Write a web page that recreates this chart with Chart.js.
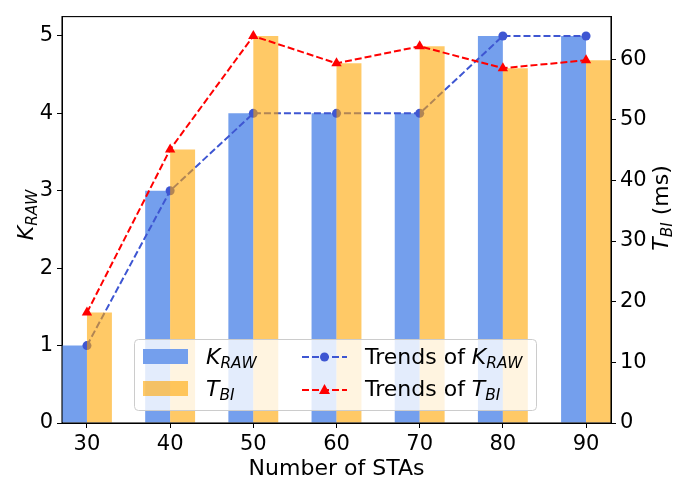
<!DOCTYPE html>
<html>
<head>
<meta charset="utf-8">
<script src="https://cdn.jsdelivr.net/npm/chart.js@4.4.1/dist/chart.umd.min.js"></script>
<style>
  html, body { margin: 0; padding: 0; background: #fff; }
  #grafico { display: block; }
</style>
</head>
<body>
<canvas id="grafico" width="673" height="478"></canvas>
<script>
// datos
var stas = [30, 40, 50, 60, 70, 80, 90];
var kRaw = [1, 3, 4, 4, 4, 5, 5];
var tBi = [18.2, 45.1, 63.8, 59.3, 62.1, 58.5, 59.8];
var yTicksK = [0, 1, 2, 3, 4, 5];
var yTicksT = [0, 10, 20, 30, 40, 50, 60];

var FUENTE = '"DejaVu Sans", sans-serif';
var TAM_TICK = 21;
var TAM = 22;
var azulBarra = 'rgb(116,159,237)';
var naranjaBarra = 'rgba(255,165,0,0.6)';
var azulLinea = 'rgb(62,86,210)';
var rojoLinea = 'rgb(255,0,0)';

// puntos {x, y} para el eje lineal
function puntos(vals) {
    return stas.map(function(s, i) { return {x: s, y: vals[i]}; });
}

// texto con subíndice (K_RAW, T_BI)
function textoMath(ctx, x, y, partes, align) {
    var total = 0;
    partes.forEach(function(p) {
        var t = p.sub ? TAM * 0.7 : TAM;
        ctx.font = (p.italic ? 'italic ' : '') + t + 'px ' + FUENTE;
        p.w = ctx.measureText(p.t).width;
        total += p.w;
    });
    var cx = x;
    if (align === 'center') cx = x - total / 2;
    partes.forEach(function(p) {
        var t = p.sub ? TAM * 0.7 : TAM;
        ctx.font = (p.italic ? 'italic ' : '') + t + 'px ' + FUENTE;
        ctx.fillText(p.t, cx, y + (p.sub ? 4 : 0));
        cx += p.w;
    });
}

var K_RAW = [{t: 'K', italic: true}, {t: 'RAW', italic: true, sub: true}];
var T_BI = [{t: 'T', italic: true}, {t: 'BI', italic: true, sub: true}];

// orden de dibujo como en matplotlib: barras azules, línea azul, barras naranjas, línea roja
var ordenDibujo = [0, 2, 1, 3];

var capas = {
    id: 'capas',
    beforeDatasetDraw: function() { return false; },
    afterDatasetsDraw: function(chart) {
        var ctx = chart.ctx;
        var a = chart.chartArea;
        ctx.save();
        ctx.beginPath();
        ctx.rect(a.left, a.top, a.right - a.left, a.bottom - a.top);
        ctx.clip();
        ordenDibujo.forEach(function(i) { chart.getDatasetMeta(i).controller.draw(); });
        ctx.restore();
    }
};

var extras = {
    id: 'extras',
    afterDraw: function(chart) {
        var ctx = chart.ctx;
        var a = chart.chartArea;
        ctx.save();
        // marco
        ctx.strokeStyle = '#000';
        ctx.lineWidth = 1.1;
        ctx.strokeRect(a.left, a.top, a.right - a.left, a.bottom - a.top);

        ctx.fillStyle = '#000';
        ctx.textBaseline = 'alphabetic';
        // título eje x
        ctx.font = TAM + 'px ' + FUENTE;
        ctx.textAlign = 'center';
        ctx.fillText('Number of STAs', (a.left + a.right) / 2, 475);
        ctx.textAlign = 'left';

        // título eje izquierdo
        ctx.save();
        ctx.translate(33, 215);
        ctx.rotate(-Math.PI / 2);
        textoMath(ctx, 0, 0, K_RAW, 'center');
        ctx.restore();

        // título eje derecho
        ctx.save();
        ctx.translate(668, 208);
        ctx.rotate(-Math.PI / 2);
        textoMath(ctx, 0, 0, T_BI.concat([{t: ' (ms)'}]), 'center');
        ctx.restore();

        // leyenda
        ctx.beginPath();
        ctx.roundRect(134.5, 339.5, 402, 71, 4);
        ctx.fillStyle = 'rgba(255,255,255,0.8)';
        ctx.fill();
        ctx.strokeStyle = 'rgb(204,204,204)';
        ctx.lineWidth = 1;
        ctx.stroke();

        ctx.fillStyle = azulBarra;
        ctx.fillRect(143, 349, 45, 15);
        ctx.fillStyle = naranjaBarra;
        ctx.fillRect(143, 381, 45, 15);

        function manija(y, color, triangulo) {
            ctx.strokeStyle = color;
            ctx.lineWidth = 2;
            ctx.setLineDash([7, 3]);
            ctx.beginPath();
            ctx.moveTo(302, y);
            ctx.lineTo(347, y);
            ctx.stroke();
            ctx.setLineDash([]);
            ctx.fillStyle = color;
            ctx.beginPath();
            if (triangulo) {
                ctx.moveTo(324.5, y - 6);
                ctx.lineTo(330, y + 4);
                ctx.lineTo(319, y + 4);
                ctx.closePath();
            } else {
                ctx.arc(324.5, y, 4.5, 0, Math.PI * 2);
            }
            ctx.fill();
        }
        manija(357, azulLinea, false);
        manija(390, rojoLinea, true);

        ctx.fillStyle = '#000';
        textoMath(ctx, 206, 363.5, K_RAW);
        textoMath(ctx, 206, 396, T_BI);
        textoMath(ctx, 365, 363.5, [{t: 'Trends of '}].concat(K_RAW));
        textoMath(ctx, 365, 396, [{t: 'Trends of '}].concat(T_BI));
        ctx.restore();
    }
};

function ejeComun() {
    return {
        grid: { display: true, drawOnChartArea: false, drawTicks: true, tickLength: 5, color: '#000', offset: false },
        border: { display: true, color: '#000', width: 1 },
        ticks: { color: '#000', font: { family: FUENTE, size: TAM_TICK }, padding: 4 }
    };
}

new Chart(document.getElementById('grafico'), {
    data: {
        datasets: [
            {
                type: 'bar', label: 'K_RAW', data: puntos(kRaw), yAxisID: 'y',
                backgroundColor: azulBarra, categoryPercentage: 0.6, barPercentage: 1.0
            },
            {
                type: 'bar', label: 'T_BI', data: puntos(tBi), yAxisID: 'y1',
                backgroundColor: naranjaBarra, categoryPercentage: 0.6, barPercentage: 1.0
            },
            {
                type: 'line', label: 'Trends of K_RAW', data: puntos(kRaw), yAxisID: 'y',
                borderColor: azulLinea, backgroundColor: azulLinea, borderWidth: 2, borderDash: [7, 3],
                pointStyle: 'circle', pointRadius: 4.5, pointBorderWidth: 0
            },
            {
                type: 'line', label: 'Trends of T_BI', data: puntos(tBi), yAxisID: 'y1',
                borderColor: rojoLinea, backgroundColor: rojoLinea, borderWidth: 2, borderDash: [7, 3],
                pointStyle: 'triangle', pointRadius: 6, pointBorderWidth: 0
            }
        ]
    },
    options: {
        responsive: false,
        animation: false,
        devicePixelRatio: 1,
        layout: { padding: { top: 14, left: 0, right: 0, bottom: 0 } },
        plugins: { legend: { display: false }, tooltip: { enabled: false } },
        scales: {
            x: Object.assign(ejeComun(), {
                type: 'linear', min: 27, max: 93, offset: false,
                afterBuildTicks: function(s) { s.ticks = stas.map(function(v) { return {value: v}; }); },
                afterFit: function(s) { s.height = 55; }
            }),
            y: Object.assign(ejeComun(), {
                position: 'left', min: 0, max: 5.25,
                afterBuildTicks: function(s) { s.ticks = yTicksK.map(function(v) { return {value: v}; }); },
                afterFit: function(s) { s.width = 62; }
            }),
            y1: Object.assign(ejeComun(), {
                position: 'right', min: 0, max: 67,
                afterBuildTicks: function(s) { s.ticks = yTicksT.map(function(v) { return {value: v}; }); },
                afterFit: function(s) { s.width = 62; }
            })
        }
    },
    plugins: [capas, extras]
});
</script>
</body>
</html>
